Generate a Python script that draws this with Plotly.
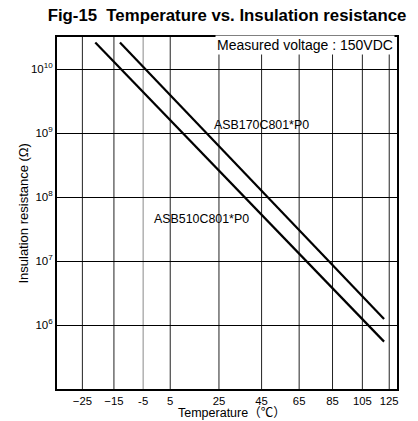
import plotly.graph_objects as go

# ---- data ----
temp_ticks = [-25, -15, -5, 5, 25, 45, 65, 85, 105, 125]
temp_tick_labels = ["−25", "−15", "-5", "5", "25", "45", "65", "85", "105", "125"]
r_ticks = [1e6, 1e7, 1e8, 1e9, 1e10]
r_tick_labels = ["10<sup>6</sup>", "10<sup>7</sup>", "10<sup>8</sup>", "10<sup>9</sup>", "10<sup>10</sup>"]

asb170_temp = [-13, 121]
asb170_res = [2.6e10, 1.24e6]
asb510_temp = [-21, 121]
asb510_res = [2.6e10, 5.5e5]

x_range_temp = [-32.5, 131.2]   # axis span in °C (Arrhenius 1000/K scale)
y_range_log = [5, 10.5]


def inv_k(t):
    return 1000.0 / (t + 273.15)


FONT = "Liberation Sans, Arial, Noto Sans CJK JP, sans-serif"
PAGE = 8  # default html body margin shifts the figure by this many pixels
LIGHT_GRID = {-5}

fig = go.Figure()
for temps, res in [(asb170_temp, asb170_res), (asb510_temp, asb510_res)]:
    fig.add_trace(go.Scatter(
        x=[inv_k(t) for t in temps], y=res, mode="lines",
        line=dict(color="black", width=2.2), showlegend=False, hoverinfo="skip"))

for t in temp_ticks:
    fig.add_shape(type="line", xref="x", yref="paper", x0=inv_k(t), x1=inv_k(t), y0=0, y1=1,
                  line=dict(color="#8a8a8a" if t in LIGHT_GRID else "#222", width=1), layer="below")

fig.update_layout(
    width=418, height=421,
    margin=dict(l=56.5 - PAGE, r=20.7 + PAGE, t=37.3 - PAGE, b=31.7 + PAGE),
    paper_bgcolor="white", plot_bgcolor="white",
    font=dict(family=FONT, color="black", size=11),
    title=dict(text="<b>Fig-15\u00a0 Temperature vs. Insulation resistance</b>",
               x=0.5, xref="paper", xanchor="center",
               y=1 - (15.5 - PAGE) / 421, yanchor="middle",
               font=dict(size=16.8, family=FONT, color="black")),
    xaxis=dict(
        range=[inv_k(x_range_temp[0]), inv_k(x_range_temp[1])],
        tickvals=[inv_k(t) for t in temp_ticks], ticktext=temp_tick_labels,
        showgrid=False,
        showline=True, linecolor="black", linewidth=2, mirror=True,
        ticks="", zeroline=False, tickfont=dict(size=11.3),
    ),
    yaxis=dict(
        type="log", range=y_range_log,
        tickvals=r_ticks, ticktext=r_tick_labels,
        showgrid=True, gridcolor="black", gridwidth=1,
        showline=True, linecolor="black", linewidth=2, mirror=True,
        ticks="", zeroline=False, tickfont=dict(size=11.5),
    ),
)

fig.add_annotation(text="Measured voltage : 150VDC", xref="paper", yref="paper",
                   x=0.993, y=1 - (45 - 37.3) / 352, xanchor="right", yanchor="middle",
                   showarrow=False, bgcolor="white", font=dict(size=14), borderpad=1)
fig.add_annotation(text="ASB170C801*P0", xref="paper", yref="paper",
                   x=0.456, y=1 - (125 - 37.3) / 352, xanchor="left", yanchor="middle",
                   showarrow=False, font=dict(size=12.4))
fig.add_annotation(text="ASB510C801*P0", xref="paper", yref="paper",
                   x=0.279, y=1 - (219 - 37.3) / 352, xanchor="left", yanchor="middle",
                   showarrow=False, font=dict(size=12.4))
fig.add_annotation(text="Insulation resistance (Ω)", xref="paper", yref="paper",
                   x=(22 - 56.5) / 340.8, y=0.5, xanchor="center", yanchor="middle",
                   textangle=-90, showarrow=False, font=dict(size=13))
fig.add_annotation(text="Temperature（℃）", xref="paper", yref="paper",
                   x=(232 - 56.5) / 340.8, y=-(413 - 389.3) / 352, xanchor="center", yanchor="middle",
                   showarrow=False, font=dict(size=12.5))

fig.write_html("out.html")
